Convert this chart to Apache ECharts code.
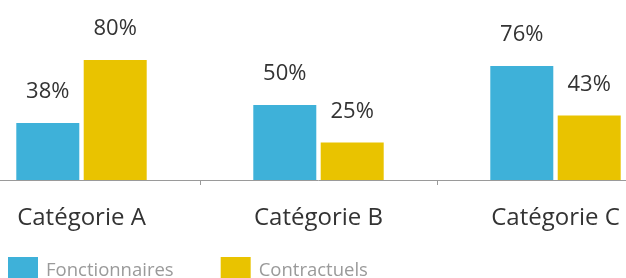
<!DOCTYPE html>
<html>
<head>
<meta charset="utf-8">
<script src="https://cdn.jsdelivr.net/npm/echarts@6/dist/echarts.min.js"></script>
<style>
html,body{margin:0;padding:0;background:#fff;overflow:hidden;width:626px;height:278px;position:relative;}
#chart{position:absolute;left:-37px;top:0;width:711px;height:278px;}
</style>
</head>
<body>
<div id="chart"></div>
<script>
const categories = ['Catégorie A', 'Catégorie B', 'Catégorie C'];
const seriesNames = ['Fonctionnaires', 'Contractuels'];
const fonctionnaires = [38, 50, 76];
const contractuels = [80, 25, 43];

const chart = echarts.init(document.getElementById('chart'));
const labelStyle = {
  show: true,
  position: 'top',
  distance: 20,
  formatter: '{c}%',
  color: '#333333',
  fontSize: 22,
  fontFamily: 'Open Sans'
};
chart.setOption({
  animation: false,
  grid: { left: 0, right: 0, top: 30, bottom: 98 },
  legend: {
    left: 40,
    top: 252,
    itemWidth: 30,
    itemHeight: 28,
    itemGap: 47,
    icon: 'rect',
    textStyle: { color: '#9a9a9a', fontSize: 18.5, fontFamily: 'Open Sans', padding: [4, 0, 0, 3] },
    data: seriesNames
  },
  xAxis: {
    type: 'category',
    data: categories,
    axisLine: { lineStyle: { color: '#9a9a9a', width: 1 } },
    axisTick: { show: true, length: 5, lineStyle: { color: '#9a9a9a' } },
    axisLabel: { color: '#333333', fontSize: 24, fontFamily: 'Open Sans', margin: 26 }
  },
  yAxis: {
    type: 'value',
    min: 0,
    max: 100,
    show: false,
    splitLine: { show: false }
  },
  series: [
    {
      name: seriesNames[0],
      type: 'bar',
      data: fonctionnaires,
      barWidth: 63,
      barGap: '7%',
      itemStyle: { color: '#3eb1d9' },
      label: labelStyle
    },
    {
      name: seriesNames[1],
      type: 'bar',
      data: contractuels,
      barWidth: 63,
      barGap: '7%',
      itemStyle: { color: '#e9c300' },
      label: labelStyle
    }
  ]
});
</script>
</body>
</html>
